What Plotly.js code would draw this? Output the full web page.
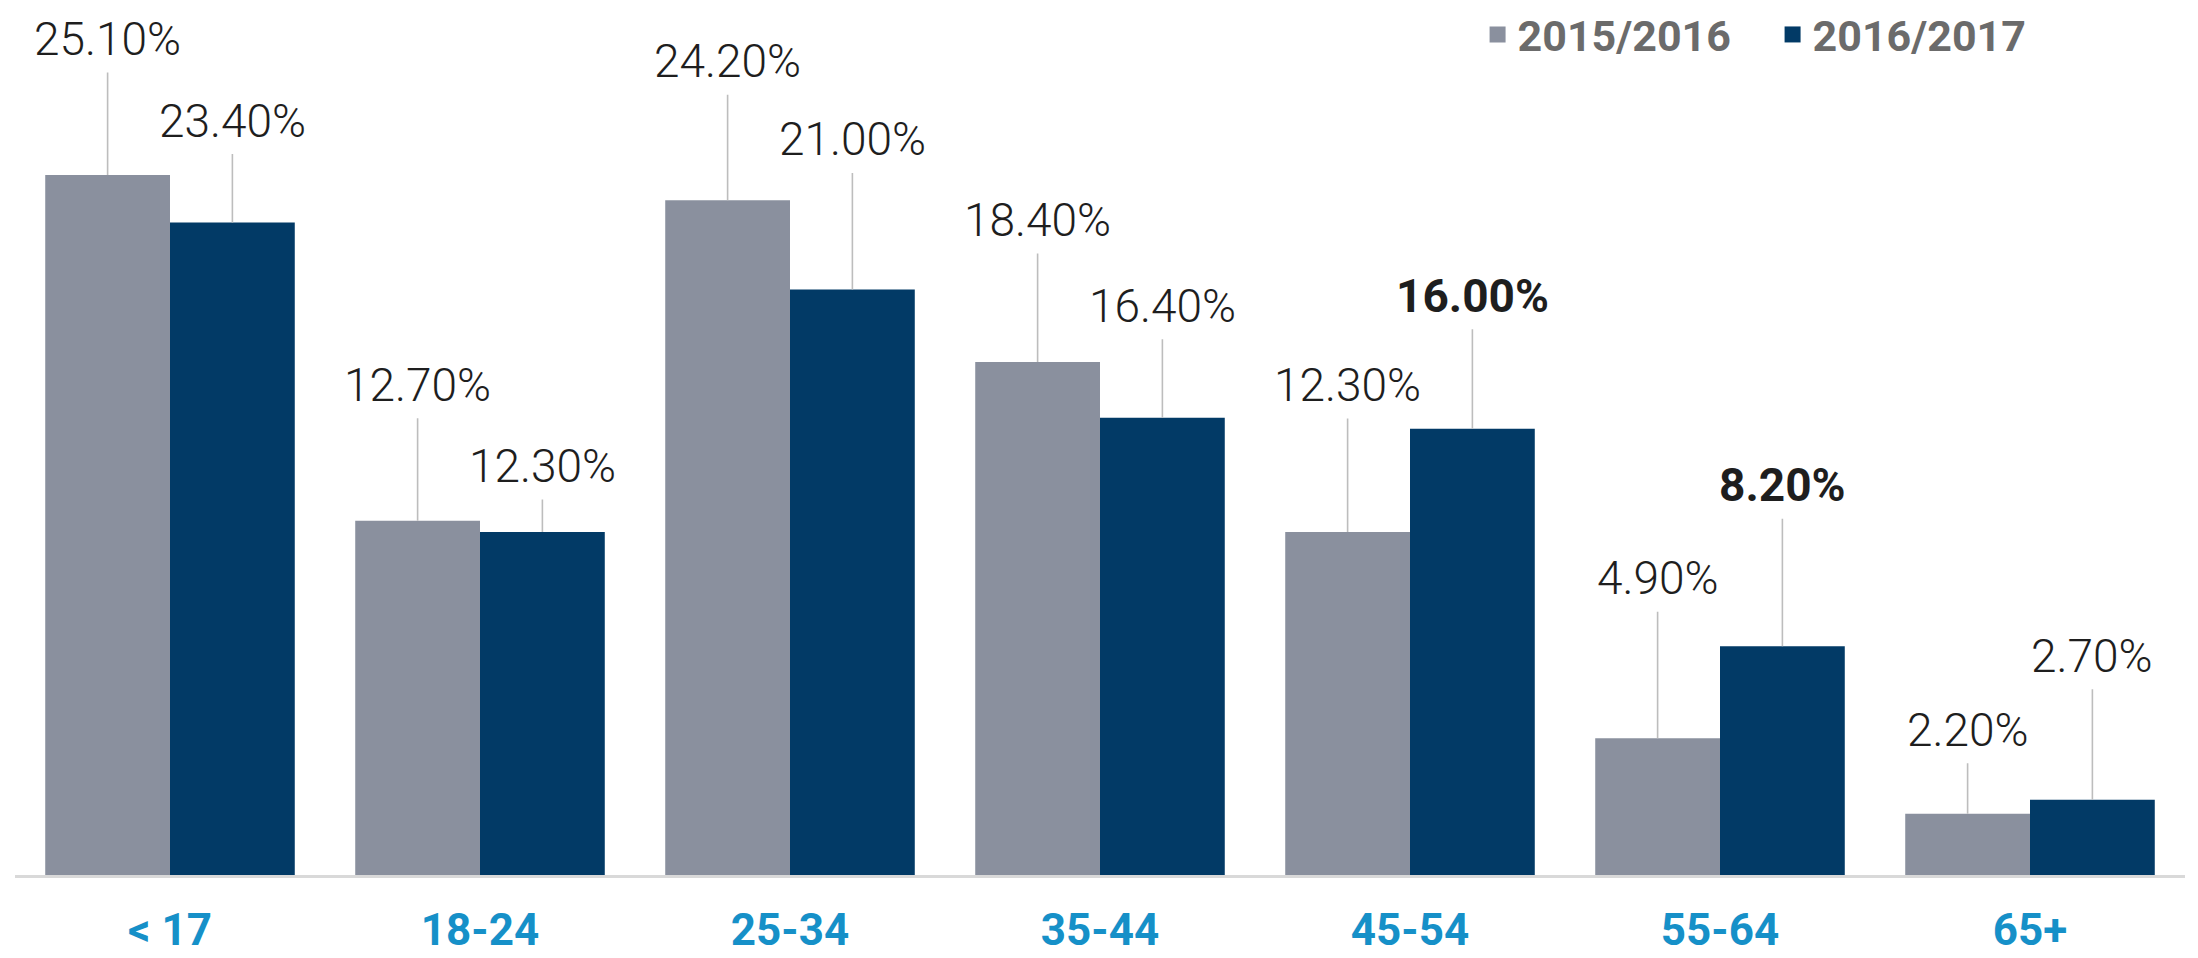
<!DOCTYPE html>
<html><head><meta charset="utf-8">
<script src="https://cdn.plot.ly/plotly-3.0.1.min.js"></script>
<style>html,body{margin:0;padding:0;background:#fff;}#chart{width:2198px;height:958px;}</style>
</head><body><div id="chart"></div>
<script>
// ---- data ----
const categories = ['< 17', '18-24', '25-34', '35-44', '45-54', '55-64', '65+'];
const values2015 = [25.1, 12.7, 24.2, 18.4, 12.3, 4.9, 2.2];
const values2016 = [23.4, 12.3, 21.0, 16.4, 16.0, 8.2, 2.7];
const seriesNames = ['2015/2016', '2016/2017'];
const highlighted2016 = ['45-54', '55-64'];

// ---- style ----
const colors = ['#8A909E', '#023A66'];
const liftA = [136, 136, 139, 142, 147, 160, 84];
const liftB = [102, 66, 150, 112, 133, 161, 144];
const bargap = 0.195;
const half = (1 - bargap) / 4;

const traces = [
  {type: 'bar', x: categories, y: values2015, name: seriesNames[0], marker: {color: colors[0]}, showlegend: false, hoverinfo: 'x+y'},
  {type: 'bar', x: categories, y: values2016, name: seriesNames[1], marker: {color: colors[1]}, showlegend: false, hoverinfo: 'x+y'},
  {type: 'scatter', mode: 'markers', x: [null], y: [null], name: seriesNames[0], marker: {symbol: 'square', size: 16, color: colors[0]}},
  {type: 'scatter', mode: 'markers', x: [null], y: [null], name: seriesNames[1], marker: {symbol: 'square', size: 16, color: colors[1]}}
];

const annotations = [];
function addLabels(vals, lifts, off, boldCats) {
  vals.forEach((v, i) => {
    const bold = boldCats.includes(categories[i]);
    annotations.push({
      x: i + off, y: v, xref: 'x', yref: 'y',
      text: v.toFixed(2) + '%',
      showarrow: true, arrowhead: 0, arrowwidth: 1.6, arrowcolor: '#BDBDBD',
      ax: 0, ay: -lifts[i], borderpad: 6,
      font: {family: 'Roboto', size: 46, color: '#1E1E1E', weight: bold ? 700 : 300}
    });
  });
}
addLabels(values2015, liftA, -half, []);
addLabels(values2016, liftB, half, highlighted2016);

const layout = {
  width: 2198, height: 958,
  margin: {l: 15, r: 13, t: 0, b: 83},
  paper_bgcolor: '#ffffff', plot_bgcolor: '#ffffff',
  barmode: 'group', bargap: bargap, bargroupgap: 0,
  xaxis: {
    type: 'category', showline: true, linecolor: '#D9D9D9', linewidth: 3,
    ticks: '', ticklabelstandoff: 14, showgrid: false, zeroline: false,
    tickfont: {family: 'Roboto', size: 44, color: '#1690C8', weight: 700}
  },
  yaxis: {range: [0, 31.38], showgrid: false, zeroline: false, showticklabels: false, showline: false, fixedrange: true},
  legend: {
    orientation: 'h', x: 0.674, xanchor: 'left', y: 1, yanchor: 'top',
    font: {family: 'Roboto', size: 43, color: '#6B6B6B', weight: 700},
    entrywidth: 250, entrywidthmode: 'pixels', bgcolor: 'rgba(0,0,0,0)'
  },
  annotations: annotations,
  showlegend: true
};

Plotly.newPlot('chart', traces, layout, {displayModeBar: false, staticPlot: true});
</script>
</body></html>
